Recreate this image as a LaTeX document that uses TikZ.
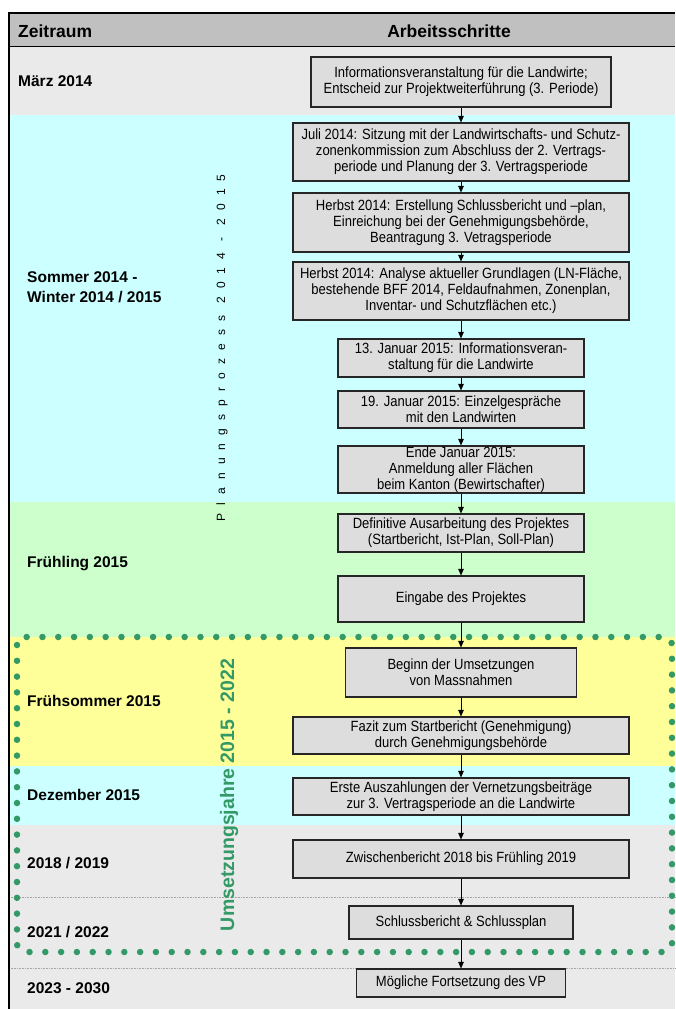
\documentclass[tikz,border=0pt]{standalone}
\usepackage{fontspec}
\setmainfont{Liberation Sans}
\newfontfamily\schmal[FakeStretch=0.88]{Liberation Sans}
\usepackage{tikz}
\usetikzlibrary{shapes,arrows,arrows.meta,backgrounds,positioning,fit}

\definecolor{kopfgrau}{HTML}{C0C0C0}
\definecolor{zeilegrau}{HTML}{EAEAEA}
\definecolor{zeilecyan}{HTML}{CCFFFF}
\definecolor{zeilegruen}{HTML}{CCFFCC}
\definecolor{zeilegelb}{HTML}{FFFF99}
\definecolor{boxgrau}{HTML}{DDDDDD}
\definecolor{umsgruen}{HTML}{339966}

\begin{document}
\begin{tikzpicture}[x=1pt,y=-1pt]
				\tikzstyle{Step}	= [draw=black!85, line width=1.1pt, fill=boxgrau, align=center, inner sep=0pt, font=\schmal\fontsize{14.8}{16}\selectfont]
				\tikzstyle{Time}	= [anchor=west, inner sep=0pt, align=left, font=\bfseries\fontsize{15.5}{20}\selectfont]
				\tikzstyle{Head}	= [inner sep=0pt, font=\bfseries\fontsize{17.5}{20}\selectfont]
				\tikzstyle{Flow}	= [-{Triangle[length=6.5pt,width=5.5pt]}, line width=0.8pt]
				\tikzstyle{Frame}	= [umsgruen, line width=6.5pt, line cap=round, dash pattern=on 0pt off 15.8pt, rounded corners=8pt]

				\useasboundingbox (0,0) rectangle (675,1009);
				\fill[kopfgrau] (9,13) rectangle (675,46);
				\fill[zeilegrau] (9,46) rectangle (675,115);
				\fill[zeilecyan] (9,115) rectangle (675,502);
				\fill[zeilegruen] (9,502) rectangle (675,637);
				\fill[zeilegelb] (9,637) rectangle (675,766);
				\fill[zeilecyan] (9,766) rectangle (675,825);
				\fill[zeilegrau] (9,825) rectangle (675,1009);
				\draw[black!35, densely dotted, line width=0.6pt] (9,897) -- (675,897);
				\draw[black!35, densely dotted, line width=0.6pt] (9,968) -- (675,968);
				\draw[line width=1.2pt] (675,13) -- (9,13) -- (9,1009);
				\draw[line width=0.8pt] (9,46) -- (675,46);
				\draw[Frame] (17,637) rectangle (672,952);

				\node (h0) at (18,31) [Head, anchor=west] {Zeitraum};
				\node (h1) at (449,31) [Head] {Arbeitsschritte};

				\node (z0) at (18,81) [Time] {März 2014};
				\node (z1) at (27,287) [Time] {Sommer 2014 -\\Winter 2014 / 2015};
				\node (z2) at (27,564) [Time] {Frühling 2015};
				\node (z3) at (27,701) [Time] {Frühsommer 2015};
				\node (z4) at (27,795) [Time] {Dezember 2015};
				\node (z5) at (27,863) [Time] {2018 / 2019};
				\node (z6) at (27,932) [Time] {2021 / 2022};
				\node (z7) at (27,988) [Time] {2023 - 2030};

				\node (pp) at (222,348) [rotate=90, inner sep=0pt, font=\fontsize{12}{14}\selectfont\addfontfeature{LetterSpace=68}] {Planungsprozess 2014 - 2015};
				\node (uj) at (229,795) [rotate=90, inner sep=0pt, text=umsgruen, font=\bfseries\fontsize{19.5}{22}\selectfont] {Umsetzungsjahre 2015 - 2022};

				\node (s1) at (461,82) [Step, minimum width=300, minimum height=50] {Informationsveranstaltung für die Landwirte;\\Entscheid zur Projektweiterführung (3. Periode)};
				\node (s2) at (461,152) [Step, minimum width=336, minimum height=58] {Juli 2014: Sitzung mit der Landwirtschafts- und Schutz-\\zonenkommission zum Abschluss der 2. Vertrags-\\periode und Planung der 3. Vertragsperiode};
				\node (s3) at (461,222.5) [Step, minimum width=336, minimum height=59] {Herbst 2014: Erstellung Schlussbericht und –plan,\\Einreichung bei der Genehmigungsbehörde,\\Beantragung 3. Vetragsperiode};
				\node (s4) at (461,291) [Step, minimum width=336, minimum height=58] {Herbst 2014: Analyse aktueller Grundlagen (LN-Fläche,\\bestehende BFF 2014, Feldaufnahmen, Zonenplan,\\Inventar- und Schutzflächen etc.)};
				\node (s5) at (461,358) [Step, minimum width=246, minimum height=38] {13. Januar 2015: Informationsveran-\\staltung für die Landwirte};
				\node (s6) at (461,409.5) [Step, minimum width=246, minimum height=37] {19. Januar 2015: Einzelgespräche\\mit den Landwirten};
				\node (s7) at (461,469.5) [Step, minimum width=246, minimum height=47] {Ende Januar 2015:\\Anmeldung aller Flächen\\beim Kanton (Bewirtschafter)};
				\node (s8) at (461,533) [Step, minimum width=246, minimum height=38] {Definitive Ausarbeitung des Projektes\\(Startbericht, Ist-Plan, Soll-Plan)};
				\node (s9) at (461,599) [Step, minimum width=246, minimum height=46] {Eingabe des Projektes};
				\node (s10) at (461,672.5) [Step, minimum width=231, minimum height=49] {Beginn der Umsetzungen\\von Massnahmen};
				\node (s11) at (461,735.5) [Step, minimum width=336, minimum height=37] {Fazit zum Startbericht (Genehmigung)\\durch Genehmigungsbehörde};
				\node (s12) at (461,796.5) [Step, minimum width=336, minimum height=37] {Erste Auszahlungen der Vernetzungsbeiträge\\zur 3. Vertragsperiode an die Landwirte};
				\node (s13) at (461,859) [Step, minimum width=336, minimum height=38] {Zwischenbericht 2018 bis Frühling 2019};
				\node (s14) at (461,922.5) [Step, minimum width=224, minimum height=33] {Schlussbericht \& Schlussplan};
				\node (s15) at (461,983) [Step, minimum width=209, minimum height=28] {Mögliche Fortsetzung des VP};

				\draw [Flow] (s1) to (s2);
				\draw [Flow] (s2) to (s3);
				\draw [Flow] (s3) to (s4);
				\draw [Flow] (s4) to (s5);
				\draw [Flow] (s5) to (s6);
				\draw [Flow] (s6) to (s7);
				\draw [Flow] (s7) to (s8);
				\draw [Flow] (s8) to (s9);
				\draw [Flow] (s9) to (s10);
				\draw [Flow] (s10) to (s11);
				\draw [Flow] (s11) to (s12);
				\draw [Flow] (s12) to (s13);
				\draw [Flow] (s13) to (s14);
				\draw [Flow] (s14) to (s15);
\end{tikzpicture}
\end{document}
